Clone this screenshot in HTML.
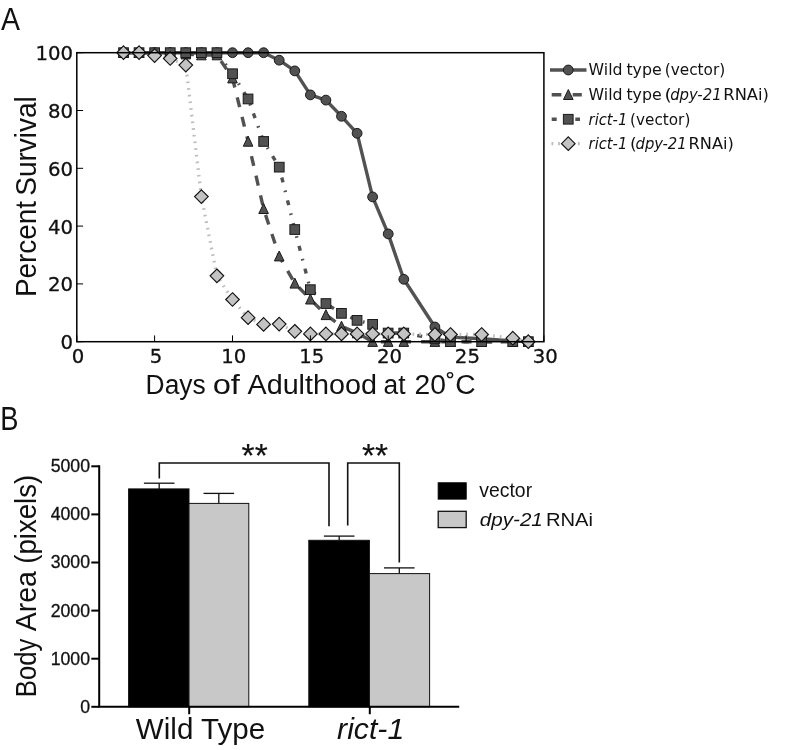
<!DOCTYPE html>
<html lang="en"><head><meta charset="utf-8"><title>Figure</title>
<style>
html,body{margin:0;padding:0;background:#fff;}
body{width:789px;height:750px;overflow:hidden;}
svg{display:block;}
.dj{font-family:"DejaVu Sans","Liberation Sans",sans-serif;}
.my{font-family:"Liberation Sans","DejaVu Sans",sans-serif;}
.lg{font-family:"DejaVu Sans","Liberation Sans",sans-serif;}
.ar{font-family:"Liberation Sans",Arial,sans-serif;}
text{fill:#111;}
</style></head><body>
<svg width="789" height="750" viewBox="0 0 789 750">
<rect width="789" height="750" fill="#fff"/>

<g id="panelA">
<text class="my" x="0.9" y="29.8" font-size="31.6" textLength="19" lengthAdjust="spacingAndGlyphs">A</text>
<g fill="none" stroke-linejoin="round">
<polyline points="123.5,52.7 139.1,52.7 154.6,52.7 170.2,52.7 185.8,52.7 201.4,52.7 216.9,52.7 232.5,52.7 248.1,52.7 263.6,52.7 279.2,60.2 294.8,70.9 310.4,94.9 325.9,100.1 341.5,116.3 357.1,133.3 372.6,196.9 388.2,233.9 403.8,279.3 434.9,327.0 450.5,337.1 481.6,338.8 512.8,340.8 528.3,341.7" stroke="#525252" stroke-width="3.4"/>
<polyline points="123.5,52.7 139.1,52.7 154.6,52.7 170.2,52.7 185.8,54.1 201.4,55.0 216.9,55.0 232.5,78.1 248.1,141.4 263.6,208.8 279.2,256.2 294.8,283.3 310.4,299.2 325.9,314.8 341.5,326.4 357.1,333.0 372.6,341.7 388.2,341.7 403.8,341.7 434.9,341.7 450.5,341.7 481.6,341.7 512.8,341.7 528.3,341.7" stroke="#525252" stroke-width="3.4" stroke-dasharray="10.08 10.08"/>
<polyline points="123.5,52.7 139.1,52.7 154.6,52.7 170.2,52.7 185.8,52.7 201.4,52.7 216.9,52.7 232.5,73.8 248.1,98.9 263.6,141.4 279.2,167.1 294.8,229.6 310.4,289.7 325.9,303.6 341.5,313.4 357.1,320.3 372.6,324.4 388.2,333.0 403.8,333.0 434.9,338.8 450.5,341.7 481.6,341.7 512.8,341.7 528.3,341.7" stroke="#525252" stroke-width="3.4" stroke-dasharray="5.04 8.4 1.68 8.4"/>
<polyline points="123.5,52.7 139.1,52.7 154.6,55.6 170.2,58.5 185.8,65.1 201.4,196.6 216.9,275.8 232.5,299.5 248.1,317.7 263.6,324.4 279.2,324.1 294.8,331.3 310.4,333.9 325.9,333.9 341.5,333.9 357.1,333.9 372.6,333.9 388.2,333.9 403.8,333.9 434.9,334.5 450.5,334.5 481.6,334.5 512.8,338.2 528.3,341.7" stroke="#bdbdbd" stroke-width="3.3" stroke-dasharray="1.68 5.04"/>
</g>
<g fill="#525252" stroke="#1a1a1a" stroke-width="1">
<circle cx="123.5" cy="52.7" r="4.9"/>
<circle cx="139.1" cy="52.7" r="4.9"/>
<circle cx="154.6" cy="52.7" r="4.9"/>
<circle cx="170.2" cy="52.7" r="4.9"/>
<circle cx="185.8" cy="52.7" r="4.9"/>
<circle cx="201.4" cy="52.7" r="4.9"/>
<circle cx="216.9" cy="52.7" r="4.9"/>
<circle cx="232.5" cy="52.7" r="4.9"/>
<circle cx="248.1" cy="52.7" r="4.9"/>
<circle cx="263.6" cy="52.7" r="4.9"/>
<circle cx="279.2" cy="60.2" r="4.9"/>
<circle cx="294.8" cy="70.9" r="4.9"/>
<circle cx="310.4" cy="94.9" r="4.9"/>
<circle cx="325.9" cy="100.1" r="4.9"/>
<circle cx="341.5" cy="116.3" r="4.9"/>
<circle cx="357.1" cy="133.3" r="4.9"/>
<circle cx="372.6" cy="196.9" r="4.9"/>
<circle cx="388.2" cy="233.9" r="4.9"/>
<circle cx="403.8" cy="279.3" r="4.9"/>
<circle cx="434.9" cy="327.0" r="4.9"/>
<circle cx="450.5" cy="337.1" r="4.9"/>
<circle cx="481.6" cy="338.8" r="4.9"/>
<circle cx="512.8" cy="340.8" r="4.9"/>
<circle cx="528.3" cy="341.7" r="4.9"/>
<path d="M123.5 47.5L128.3 57.4L118.7 57.4Z"/>
<path d="M139.1 47.5L143.9 57.4L134.3 57.4Z"/>
<path d="M154.6 47.5L159.4 57.4L149.8 57.4Z"/>
<path d="M170.2 47.5L175.0 57.4L165.4 57.4Z"/>
<path d="M185.8 48.9L190.6 58.9L181.0 58.9Z"/>
<path d="M201.4 49.8L206.2 59.8L196.6 59.8Z"/>
<path d="M216.9 49.8L221.7 59.8L212.1 59.8Z"/>
<path d="M232.5 72.9L237.3 82.9L227.7 82.9Z"/>
<path d="M248.1 136.2L252.9 146.2L243.3 146.2Z"/>
<path d="M263.6 203.6L268.4 213.5L258.8 213.5Z"/>
<path d="M279.2 251.0L284.0 260.9L274.4 260.9Z"/>
<path d="M294.8 278.1L299.6 288.1L290.0 288.1Z"/>
<path d="M310.4 294.0L315.2 304.0L305.6 304.0Z"/>
<path d="M325.9 309.6L330.7 319.6L321.1 319.6Z"/>
<path d="M341.5 321.2L346.3 331.1L336.7 331.1Z"/>
<path d="M357.1 327.8L361.9 337.8L352.3 337.8Z"/>
<path d="M372.6 336.5L377.4 346.4L367.8 346.4Z"/>
<path d="M388.2 336.5L393.0 346.4L383.4 346.4Z"/>
<path d="M403.8 336.5L408.6 346.4L399.0 346.4Z"/>
<path d="M434.9 336.5L439.7 346.4L430.1 346.4Z"/>
<path d="M450.5 336.5L455.3 346.4L445.7 346.4Z"/>
<path d="M481.6 336.5L486.4 346.4L476.8 346.4Z"/>
<path d="M512.8 336.5L517.6 346.4L508.0 346.4Z"/>
<path d="M528.3 336.5L533.1 346.4L523.5 346.4Z"/>
<rect x="118.7" y="47.8" width="9.7" height="9.7"/>
<rect x="134.2" y="47.8" width="9.7" height="9.7"/>
<rect x="149.8" y="47.8" width="9.7" height="9.7"/>
<rect x="165.4" y="47.8" width="9.7" height="9.7"/>
<rect x="180.9" y="47.8" width="9.7" height="9.7"/>
<rect x="196.5" y="47.8" width="9.7" height="9.7"/>
<rect x="212.1" y="47.8" width="9.7" height="9.7"/>
<rect x="227.7" y="68.9" width="9.7" height="9.7"/>
<rect x="243.2" y="94.1" width="9.7" height="9.7"/>
<rect x="258.8" y="136.6" width="9.7" height="9.7"/>
<rect x="274.4" y="162.3" width="9.7" height="9.7"/>
<rect x="289.9" y="224.7" width="9.7" height="9.7"/>
<rect x="305.5" y="284.8" width="9.7" height="9.7"/>
<rect x="321.1" y="298.7" width="9.7" height="9.7"/>
<rect x="336.6" y="308.5" width="9.7" height="9.7"/>
<rect x="352.2" y="315.5" width="9.7" height="9.7"/>
<rect x="367.8" y="319.5" width="9.7" height="9.7"/>
<rect x="383.3" y="328.2" width="9.7" height="9.7"/>
<rect x="398.9" y="328.2" width="9.7" height="9.7"/>
<rect x="430.1" y="334.0" width="9.7" height="9.7"/>
<rect x="445.6" y="336.8" width="9.7" height="9.7"/>
<rect x="476.8" y="336.8" width="9.7" height="9.7"/>
<rect x="507.9" y="336.8" width="9.7" height="9.7"/>
<rect x="523.5" y="336.8" width="9.7" height="9.7"/>
</g>
<g fill="#c3c3c3" stroke="#111" stroke-width="1.15">
<path d="M123.5 45.9L130.3 52.7L123.5 59.5L116.7 52.7Z"/>
<path d="M139.1 45.9L145.9 52.7L139.1 59.5L132.3 52.7Z"/>
<path d="M154.6 48.8L161.4 55.6L154.6 62.4L147.8 55.6Z"/>
<path d="M170.2 51.7L177.0 58.5L170.2 65.3L163.4 58.5Z"/>
<path d="M185.8 58.3L192.6 65.1L185.8 71.9L179.0 65.1Z"/>
<path d="M201.4 189.8L208.2 196.6L201.4 203.4L194.6 196.6Z"/>
<path d="M216.9 269.0L223.7 275.8L216.9 282.6L210.1 275.8Z"/>
<path d="M232.5 292.7L239.3 299.5L232.5 306.3L225.7 299.5Z"/>
<path d="M248.1 310.9L254.9 317.7L248.1 324.5L241.3 317.7Z"/>
<path d="M263.6 317.6L270.4 324.4L263.6 331.2L256.8 324.4Z"/>
<path d="M279.2 317.3L286.0 324.1L279.2 330.9L272.4 324.1Z"/>
<path d="M294.8 324.5L301.6 331.3L294.8 338.1L288.0 331.3Z"/>
<path d="M310.4 327.1L317.2 333.9L310.4 340.7L303.6 333.9Z"/>
<path d="M325.9 327.1L332.7 333.9L325.9 340.7L319.1 333.9Z"/>
<path d="M341.5 327.1L348.3 333.9L341.5 340.7L334.7 333.9Z"/>
<path d="M357.1 327.1L363.9 333.9L357.1 340.7L350.3 333.9Z"/>
<path d="M372.6 327.1L379.4 333.9L372.6 340.7L365.8 333.9Z"/>
<path d="M388.2 327.1L395.0 333.9L388.2 340.7L381.4 333.9Z"/>
<path d="M403.8 327.1L410.6 333.9L403.8 340.7L397.0 333.9Z"/>
<path d="M434.9 327.7L441.7 334.5L434.9 341.3L428.1 334.5Z"/>
<path d="M450.5 327.7L457.3 334.5L450.5 341.3L443.7 334.5Z"/>
<path d="M481.6 327.7L488.4 334.5L481.6 341.3L474.8 334.5Z"/>
<path d="M512.8 331.4L519.6 338.2L512.8 345.0L506.0 338.2Z"/>
<path d="M528.3 334.9L535.1 341.7L528.3 348.5L521.5 341.7Z"/>
</g>
<rect x="76.8" y="52.7" width="467.1" height="289.0" fill="none" stroke="#000" stroke-width="1.5"/>
<g stroke="#000" stroke-width="1">
<line x1="76.8" y1="341.7" x2="76.8" y2="335.4"/>
<line x1="154.6" y1="341.7" x2="154.6" y2="335.4"/>
<line x1="232.5" y1="341.7" x2="232.5" y2="335.4"/>
<line x1="310.4" y1="341.7" x2="310.4" y2="335.4"/>
<line x1="388.2" y1="341.7" x2="388.2" y2="335.4"/>
<line x1="466.1" y1="341.7" x2="466.1" y2="335.4"/>
<line x1="543.9" y1="341.7" x2="543.9" y2="335.4"/>
<line x1="76.8" y1="341.7" x2="83.1" y2="341.7"/>
<line x1="76.8" y1="283.9" x2="83.1" y2="283.9"/>
<line x1="76.8" y1="226.1" x2="83.1" y2="226.1"/>
<line x1="76.8" y1="168.3" x2="83.1" y2="168.3"/>
<line x1="76.8" y1="110.5" x2="83.1" y2="110.5"/>
<line x1="76.8" y1="52.7" x2="83.1" y2="52.7"/>
</g>
<g class="dj" font-size="19.7" stroke="#111" stroke-width="0.3">
<text x="78.1" y="363.4" text-anchor="middle">0</text>
<text x="155.9" y="363.4" text-anchor="middle">5</text>
<text x="233.8" y="363.4" text-anchor="middle">10</text>
<text x="311.7" y="363.4" text-anchor="middle">15</text>
<text x="389.5" y="363.4" text-anchor="middle">20</text>
<text x="467.4" y="363.4" text-anchor="middle">25</text>
<text x="545.2" y="363.4" text-anchor="middle">30</text>
<text x="73" y="349.1" text-anchor="end">0</text>
<text x="73" y="291.3" text-anchor="end">20</text>
<text x="73" y="233.5" text-anchor="end">40</text>
<text x="73" y="175.7" text-anchor="end">60</text>
<text x="73" y="117.9" text-anchor="end">80</text>
<text x="73" y="60.1" text-anchor="end">100</text>
</g>
<g class="my" font-size="27" lengthAdjust="spacingAndGlyphs">
<text x="145.6" y="393.8" textLength="60.1" lengthAdjust="spacingAndGlyphs">Days</text>
<text x="212.65" y="393.8" textLength="27.3" lengthAdjust="spacingAndGlyphs">of</text>
<text x="247.5" y="393.8" textLength="129.4" lengthAdjust="spacingAndGlyphs">Adulthood</text>
<text x="383.6" y="393.8" textLength="22.0" lengthAdjust="spacingAndGlyphs">at</text>
<text x="414.5" y="393.8" textLength="61.2" lengthAdjust="spacingAndGlyphs">20˚C</text>
</g>
<g class="my" font-size="29.5" transform="translate(35.8 294.8) rotate(-90)">
<text x="-2.3" y="0" textLength="96.1" lengthAdjust="spacingAndGlyphs">Percent</text>
<text x="99.0" y="0" textLength="99.6" lengthAdjust="spacingAndGlyphs">Survival</text>
</g>
<g fill="none">
<line x1="550" y1="70.0" x2="586.5" y2="70.0" stroke="#525252" stroke-width="3.4"/>
<path d="M551.7 94.8H561.4M572.7 94.8H581.8" stroke="#525252" stroke-width="3.4"/>
<path d="M551.7 119.2H556.7M575.3 119.2H580" stroke="#525252" stroke-width="3.4"/>
<line x1="551.5" y1="143.7" x2="581" y2="143.7" stroke="#bdbdbd" stroke-width="3.2" stroke-dasharray="1.8 4.8"/>
</g>
<g fill="#525252" stroke="#1a1a1a" stroke-width="1">
<circle cx="568.3" cy="70.0" r="4.9"/>
<path d="M568.3 89.6L573.1 99.5L563.5 99.5Z"/>
<rect x="563.4" y="114.4" width="9.7" height="9.7"/>
</g>
<g fill="#c3c3c3" stroke="#111" stroke-width="1.15"><path d="M568.3 136.9L575.1 143.7L568.3 150.5L561.5 143.7Z"/></g>
<g class="lg" font-size="15.3">
<text x="588.6" y="74.9" textLength="33.9" lengthAdjust="spacingAndGlyphs">Wild</text>
<text x="626.4" y="74.9" textLength="35.35" lengthAdjust="spacingAndGlyphs">type</text>
<text x="664.7" y="74.9" textLength="60.6" lengthAdjust="spacingAndGlyphs">(vector)</text>
<text x="588.6" y="99.7" textLength="33.9" lengthAdjust="spacingAndGlyphs">Wild</text>
<text x="626.4" y="99.7" textLength="35.35" lengthAdjust="spacingAndGlyphs">type</text>
<text x="664.45" y="99.7" textLength="7.26" lengthAdjust="spacingAndGlyphs">(</text>
<text x="670.2" y="99.7" font-style="italic" textLength="51.4" lengthAdjust="spacingAndGlyphs">dpy-21</text>
<text x="723.3" y="99.7" textLength="45.6" lengthAdjust="spacingAndGlyphs">RNAi)</text>
<text x="588.6" y="124.6" font-style="italic" textLength="38.7" lengthAdjust="spacingAndGlyphs">rict-1</text>
<text x="630.05" y="124.6" textLength="60.3" lengthAdjust="spacingAndGlyphs">(vector)</text>
<text x="588.6" y="149.3" font-style="italic" textLength="38.7" lengthAdjust="spacingAndGlyphs">rict-1</text>
<text x="629.9" y="149.3" textLength="6.7" lengthAdjust="spacingAndGlyphs">(</text>
<text x="635.5" y="149.3" font-style="italic" textLength="51.2" lengthAdjust="spacingAndGlyphs">dpy-21</text>
<text x="688.6" y="149.3" textLength="45.3" lengthAdjust="spacingAndGlyphs">RNAi)</text>
</g>
</g>
<g id="panelB">
<text class="my" x="0.3" y="430" font-size="33" textLength="18.2" lengthAdjust="spacingAndGlyphs">B</text>
<line x1="159.2" y1="488.9" x2="159.2" y2="483.2" stroke="#111" stroke-width="1.3"/>
<line x1="143.9" y1="483.2" x2="174.5" y2="483.2" stroke="#111" stroke-width="1.3"/>
<rect x="128.6" y="488.9" width="60.4" height="217.9" fill="#000" stroke="#111" stroke-width="1"/>
<line x1="218.8" y1="503.4" x2="218.8" y2="493.4" stroke="#111" stroke-width="1.3"/>
<line x1="203.5" y1="493.4" x2="234.1" y2="493.4" stroke="#111" stroke-width="1.3"/>
<rect x="189.0" y="503.4" width="59.8" height="203.4" fill="#c8c8c8" stroke="#111" stroke-width="1"/>
<line x1="339.2" y1="540.3" x2="339.2" y2="536.1" stroke="#111" stroke-width="1.3"/>
<line x1="323.9" y1="536.1" x2="354.5" y2="536.1" stroke="#111" stroke-width="1.3"/>
<rect x="308.8" y="540.3" width="60.6" height="166.5" fill="#000" stroke="#111" stroke-width="1"/>
<line x1="399.3" y1="573.6" x2="399.3" y2="567.9" stroke="#111" stroke-width="1.3"/>
<line x1="384.0" y1="567.9" x2="414.6" y2="567.9" stroke="#111" stroke-width="1.3"/>
<rect x="369.4" y="573.6" width="60.2" height="133.2" fill="#c8c8c8" stroke="#111" stroke-width="1"/>
<path d="M99.2 465.3V706.8H459.2" fill="none" stroke="#000" stroke-width="2"/>
<g stroke="#000" stroke-width="2">
<line x1="91.3" y1="706.8" x2="99.2" y2="706.8"/>
<line x1="91.3" y1="658.7" x2="99.2" y2="658.7"/>
<line x1="91.3" y1="610.6" x2="99.2" y2="610.6"/>
<line x1="91.3" y1="562.5" x2="99.2" y2="562.5"/>
<line x1="91.3" y1="514.4" x2="99.2" y2="514.4"/>
<line x1="91.3" y1="466.3" x2="99.2" y2="466.3"/>
<line x1="189.2" y1="706.8" x2="189.2" y2="714.2"/>
<line x1="369.8" y1="706.8" x2="369.8" y2="714.2"/>
</g>
<g class="ar" font-size="17.7" stroke="#111" stroke-width="0.3">
<text x="90" y="712.7" text-anchor="end">0</text>
<text x="90" y="664.6" text-anchor="end">1000</text>
<text x="90" y="616.5" text-anchor="end">2000</text>
<text x="90" y="568.4" text-anchor="end">3000</text>
<text x="90" y="520.3" text-anchor="end">4000</text>
<text x="90" y="472.2" text-anchor="end">5000</text>
</g>
<g class="my" font-size="29.5" transform="translate(36 695.1) rotate(-90)">
<text x="-2.1" y="0" textLength="58.7" lengthAdjust="spacingAndGlyphs">Body</text>
<text x="63.8" y="0" textLength="60.2" lengthAdjust="spacingAndGlyphs">Area</text>
<text x="131.3" y="0" textLength="89.1" lengthAdjust="spacingAndGlyphs">(pixels)</text>
</g>
<text class="ar" x="135.8" y="738.7" font-size="29" textLength="129.4" lengthAdjust="spacingAndGlyphs">Wild Type</text>
<text class="ar" x="337.1" y="738.7" font-size="29" font-style="italic" textLength="67.1" lengthAdjust="spacingAndGlyphs">rict-1</text>
<g fill="none" stroke="#111" stroke-width="1.6">
<path d="M159.3 478.6V463H329V526.2"/>
<path d="M347.7 525.6V463H399.3V562.6"/>
</g>
<text class="ar" x="241.6" y="467.3" font-size="33.5" stroke="#111" stroke-width="0.2">**</text>
<text class="ar" x="362" y="467.3" font-size="33.5" stroke="#111" stroke-width="0.2">**</text>
<rect x="438.2" y="482.8" width="28" height="16.3" fill="#000" stroke="#000" stroke-width="1"/>
<rect x="438.2" y="511.3" width="28" height="16.3" fill="#c8c8c8" stroke="#111" stroke-width="1.3"/>
<text class="ar" x="479.3" y="497.4" font-size="19.4">vector</text>
<text class="ar" x="479.8" y="525.9" font-size="19.2" font-style="italic" textLength="63" lengthAdjust="spacingAndGlyphs">dpy-21</text>
<text class="ar" x="546" y="525.9" font-size="19.2" textLength="47" lengthAdjust="spacingAndGlyphs">RNAi</text>
</g>
</svg></body></html>
